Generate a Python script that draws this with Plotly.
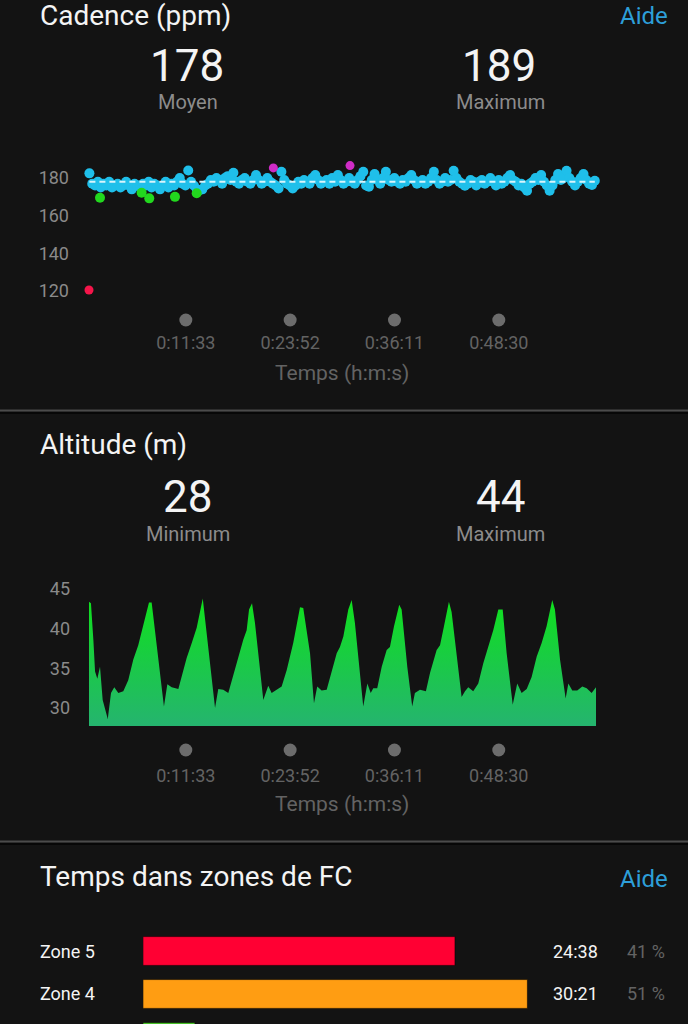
import plotly.graph_objects as go

W, H = 688, 1024
BG = "#131313"
FONT = "Roboto"

# ---------------- data ----------------
cad_avg = 178
cad_max = 189
cad_t = [10, 30, 50, 70, 90, 110, 130, 150, 170, 190,
         210, 230, 250, 270, 290, 310, 330, 350, 370, 390,
         410, 430, 450, 470, 490, 510, 530, 550, 570, 590,
         610, 630, 650, 670, 690, 710, 730, 750, 770, 790,
         810, 830, 850, 870, 890, 910, 930, 950, 970, 990,
         1010, 1030, 1050, 1070, 1090, 1110, 1130, 1150, 1170, 1190,
         1210, 1230, 1250, 1270, 1290, 1310, 1330, 1350, 1370, 1390,
         1410, 1430, 1450, 1470, 1490, 1510, 1530, 1550, 1570, 1590,
         1610, 1630, 1650, 1670, 1690, 1710, 1730, 1750, 1770, 1790,
         1810, 1830, 1850, 1870, 1890, 1910, 1930, 1950, 1970, 1990,
         2010, 2030, 2050, 2070, 2090, 2110, 2130, 2150, 2170, 2190,
         2210, 2230, 2250, 2270, 2290, 2310, 2330, 2350, 2370, 2390,
         2410, 2430, 2450, 2470, 2490, 2510, 2530, 2550, 2570, 2590,
         2610, 2630, 2650, 2670, 2690, 2710, 2730, 2750, 2770, 2790,
         2810, 2830, 2850, 2870, 2890, 2910, 2930, 2950, 2970, 2990,
         3010, 3030, 3050, 3070, 3090, 3110, 3130, 3150, 3170, 3190,
         3210, 3230, 3250, 3270, 3290, 3310, 3330, 3350, 3370, 3390,
         3410, 3430, 3450, 3470, 3490, 3510, 3530, 3550, 3570, 3590]
cad_blue = [182.5, 177, 176, 178, 175, 177, 176, 178, 175, 176,
            177, 175, 176, 178, 176, 174, 177, 176, 175, 177,
            176, 178, 175, 177, 176, 174, 176, 178, 175, 177,
            176, 178, 180, 177, 176, 184, 178, 176, 174, 173.5,
            174, 176, 177, 179, 178, 180, 179, 177, 180, 181,
            179, 182.8, 178, 177, 179, 180, 178, 177, 179, 181.6,
            179, 177, 178, 180, 178, 177, 176, 174.5, 183.3, 179,
            177, 176, 174.5, 176, 178, 177, 179, 178, 177, 180,
            181.6, 179, 177, 178, 179, 177, 180, 178, 181.6, 179,
            177, 178, 180, 178, 177, 179, 181, 183.3, 176, 175.4,
            179, 182.1, 179, 177, 180, 183.3, 179, 178, 180, 178,
            177, 179, 178, 180, 181.6, 179, 177, 178, 179, 177,
            178, 180, 183.3, 179, 177, 178, 180, 178, 179, 183.9,
            180, 178, 177, 175.9, 177, 179, 178, 176, 178, 179,
            177, 178, 180, 178, 176, 179, 177, 178, 180, 181.6,
            179, 178, 176, 177, 175, 173.3, 177, 178, 180, 179,
            181.6, 178, 176, 173.3, 176, 179, 182.1, 179, 180, 183.9,
            180, 178, 176, 178, 180, 182.1, 179, 177, 176.3, 178.6]
cad_green_t = [85, 380, 434, 616, 770]
cad_green = [169.5, 172.2, 169.2, 170.0, 171.9]
cad_magenta_t = [1313, 1856]
cad_magenta = [185.4, 186.6]
cad_red_t = [7]
cad_red = [120.5]
cad_yticks = [120, 140, 160, 180]

time_tick_s = [693, 1432, 2171, 2910]
time_tick_lbl = ["0:11:33", "0:23:52", "0:36:11", "0:48:30"]

alt_min = 28
alt_max = 44
alt_t = [7, 21, 38, 50, 66, 85, 104, 140, 163, 186,
         215, 250, 285, 321, 356, 380, 416, 432, 451, 498,
         538, 562, 593, 640, 675, 699, 735, 770, 813, 852,
         900, 923, 958, 994, 1018, 1053, 1100, 1124, 1141, 1162,
         1183, 1242, 1277, 1301, 1337, 1372, 1408, 1454, 1502, 1525,
         1573, 1601, 1624, 1655, 1691, 1714, 1762, 1785, 1809, 1844,
         1868, 1891, 1922, 1950, 1979, 2003, 2021, 2049, 2081, 2116,
         2139, 2168, 2205, 2222, 2262, 2297, 2316, 2352, 2394, 2423,
         2470, 2494, 2522, 2557, 2576, 2616, 2647, 2671, 2694, 2729,
         2765, 2800, 2829, 2871, 2907, 2938, 2966, 3009, 3041, 3072,
         3108, 3143, 3179, 3214, 3249, 3289, 3308, 3344, 3384, 3403,
         3431, 3466, 3502, 3533, 3568, 3599]
alt_m = [43.4, 43.2, 38.6, 34.6, 33.7, 35.2, 31.0, 28.6, 31.9, 32.6,
         31.9, 32.1, 33.5, 36.1, 37.9, 39.5, 42.0, 43.3, 43.3, 36.5,
         30.2, 33.0, 32.6, 32.4, 34.8, 36.3, 38.2, 40.1, 43.8, 37.7,
         30.0, 32.4, 32.3, 31.9, 33.5, 35.6, 38.6, 39.8, 42.4, 43.2,
         40.7, 31.0, 32.8, 31.9, 32.3, 32.7, 34.8, 38.2, 42.7, 42.6,
         36.9, 30.6, 32.7, 32.2, 32.3, 33.9, 36.9, 37.7, 39.0, 42.4,
         43.6, 40.7, 34.8, 30.2, 33.1, 31.9, 32.5, 32.5, 35.2, 37.3,
         37.7, 40.3, 43.0, 42.4, 35.2, 30.2, 31.9, 32.3, 32.1, 34.4,
         37.3, 37.9, 40.3, 43.4, 42.1, 36.1, 31.4, 32.1, 32.6, 32.1,
         33.1, 35.6, 37.3, 39.8, 42.4, 42.4, 36.9, 30.4, 33.1, 31.9,
         32.4, 33.9, 36.5, 38.2, 40.3, 43.6, 42.4, 36.1, 31.2, 33.1,
         32.2, 32.2, 32.7, 32.5, 31.9, 32.6]
alt_yticks = [30, 35, 40, 45]

zone_names = ["Zone 5", "Zone 4", "Zone 3"]
zone_secs = [1478, 1821, 246]
zone_pct = [41, 51, 7]
zone_colors = ["#ff0033", "#ff9d12", "#4cc82a"]


# ---------------- helpers ----------------
def PX(x):
    return x / W


def PY(y):
    return 1 - y / H


def mmss(s):
    return f"{s // 60}:{s % 60:02d}"


WHITE = "#f4f4f4"
GREY = "#8c8c8c"
DARKGREY = "#636363"
BLUE_TXT = "#2d9fd9"

fig = go.Figure()

# ---- cadence ----
fig.add_trace(go.Scatter(x=cad_t, y=cad_blue, mode="markers", xaxis="x", yaxis="y",
                         marker=dict(color="#1fbfea", size=10, line=dict(width=0))))
fig.add_trace(go.Scatter(x=cad_green_t, y=cad_green, mode="markers", xaxis="x", yaxis="y",
                         marker=dict(color="#22d81e", size=10, line=dict(width=0))))
fig.add_trace(go.Scatter(x=cad_magenta_t, y=cad_magenta, mode="markers", xaxis="x", yaxis="y",
                         marker=dict(color="#cf2cc6", size=9, line=dict(width=0))))
fig.add_trace(go.Scatter(x=cad_red_t, y=cad_red, mode="markers", xaxis="x", yaxis="y",
                         marker=dict(color="#f5154a", size=9, line=dict(width=0))))
fig.add_trace(go.Scatter(x=[cad_t[0], cad_t[-1]], y=[cad_avg, cad_avg], mode="lines",
                         xaxis="x", yaxis="y",
                         line=dict(color="#d8f4fb", width=2, dash="6px,4px")))
fig.add_trace(go.Scatter(x=time_tick_s, y=[0] * len(time_tick_s), mode="markers",
                         xaxis="x", yaxis="y5",
                         marker=dict(color="#6c6c6c", size=13)))

# ---- altitude ----
fig.add_trace(go.Scatter(x=alt_t, y=alt_m, mode="lines", xaxis="x2", yaxis="y2",
                         fill="tozeroy", line=dict(width=0, color="#14d83a"),
                         fillgradient=dict(type="vertical",
                                           colorscale=[[0, "#25b46f"], [1, "#0fe11c"]],
                                           start=27.7, stop=44)))
fig.add_trace(go.Scatter(x=time_tick_s, y=[0] * len(time_tick_s), mode="markers",
                         xaxis="x2", yaxis="y6",
                         marker=dict(color="#6c6c6c", size=13)))

# ---- HR zones ----
fig.add_trace(go.Bar(x=zone_secs, y=list(range(len(zone_names))), orientation="h",
                     xaxis="x3", yaxis="y3", width=0.67,
                     marker=dict(color=zone_colors, line=dict(color="rgba(0,0,0,0.55)", width=1))))

hidden = dict(showgrid=False, zeroline=False, showline=False, showticklabels=False, ticks="")
tick_font = dict(family=FONT, size=18, color="#8a8a8a")
xtick_font = dict(family=FONT, size=18, color=DARKGREY)

fig.update_layout(
    width=W, height=H, margin=dict(l=0, r=0, t=0, b=0),
    paper_bgcolor=BG, plot_bgcolor=BG, showlegend=False,
    font=dict(family=FONT, color=WHITE),
    xaxis=dict(domain=[PX(70), PX(610)], range=[-127.5, 3697.7], anchor="free", position=PY(330),
               showgrid=False, zeroline=False, showline=False, ticks="",
               tickvals=time_tick_s, ticktext=time_tick_lbl, tickfont=xtick_font),
    yaxis=dict(domain=[PY(300), PY(150)], range=[115.2, 194.9], anchor="x",
               showgrid=False, zeroline=False, showline=False, ticks="",
               tickvals=cad_yticks, tickfont=tick_font),
    yaxis5=dict(domain=[PY(328), PY(312)], range=[-1, 1], anchor="x", **hidden),
    xaxis2=dict(domain=[PX(88), PX(596)], range=[0, 3599], anchor="free", position=PY(763),
                showgrid=False, zeroline=False, showline=False, ticks="",
                tickvals=time_tick_s, ticktext=time_tick_lbl, tickfont=xtick_font),
    yaxis2=dict(domain=[PY(726), PY(575)], range=[27.73, 46.76], anchor="free", position=PX(70),
                showgrid=False, zeroline=False, showline=False, ticks="",
                tickvals=alt_yticks, tickfont=tick_font),
    yaxis6=dict(domain=[PY(758), PY(742)], range=[-1, 1], anchor="x2", **hidden),
    xaxis3=dict(domain=[PX(143), PX(600)], range=[0, 2165], anchor="y3", **hidden),
    yaxis3=dict(domain=[0, PY(920)], range=[1.698, -0.721], anchor="x3", **hidden),
)

ann = []


def text(x, y, s, size, color, xanchor="center", yref="paper"):
    ann.append(dict(x=x, y=y, xref="paper", yref=yref, text=s, showarrow=False,
                    xanchor=xanchor, yanchor="middle",
                    font=dict(family=FONT, size=size, color=color)))


# section 1
text(PX(38), PY(15), "Cadence (ppm)", 28, WHITE, "left")
text(PX(670), PY(16), "Aide", 24, BLUE_TXT, "right")
text(PX(187), PY(66), str(cad_avg), 44, WHITE)
text(PX(188), PY(102), "Moyen", 20, GREY)
text(PX(499), PY(66), str(cad_max), 44, WHITE)
text(PX(500), PY(102), "Maximum", 20, GREY)
text(PX(342), PY(373), "Temps (h:m:s)", 21, DARKGREY)
# section 2
text(PX(38), PY(444), "Altitude (m)", 28, WHITE, "left")
text(PX(187), PY(497), str(alt_min), 44, WHITE)
text(PX(188), PY(534), "Minimum", 20, GREY)
text(PX(500), PY(497), str(alt_max), 44, WHITE)
text(PX(500), PY(534), "Maximum", 20, GREY)
text(PX(342), PY(804), "Temps (h:m:s)", 21, DARKGREY)
# section 3
text(PX(38), PY(876), "Temps dans zones de FC", 28, WHITE, "left")
text(PX(670), PY(879), "Aide", 24, BLUE_TXT, "right")
for i, name in enumerate(zone_names):
    text(PX(38), i, name, 18, WHITE, "left", yref="y3")
    text(PX(600), i, mmss(zone_secs[i]), 18, WHITE, "right", yref="y3")
    text(PX(667), i, f"{zone_pct[i]} %", 18, DARKGREY, "right", yref="y3")

fig.update_layout(annotations=ann)

shapes = []
for y in (410.5, 841.5):
    shapes.append(dict(type="line", xref="paper", yref="paper", x0=0, x1=1,
                       y0=PY(y), y1=PY(y), line=dict(color="#4b4b4b", width=2)))
    shapes.append(dict(type="line", xref="paper", yref="paper", x0=0, x1=1,
                       y0=PY(y + 2.5), y1=PY(y + 2.5), line=dict(color="#050505", width=1.5)))
fig.update_layout(shapes=shapes)

fig.write_html("out.html", config={"displayModeBar": False},
               post_script="document.body.style.margin='0px';document.body.style.background='#131313';")
